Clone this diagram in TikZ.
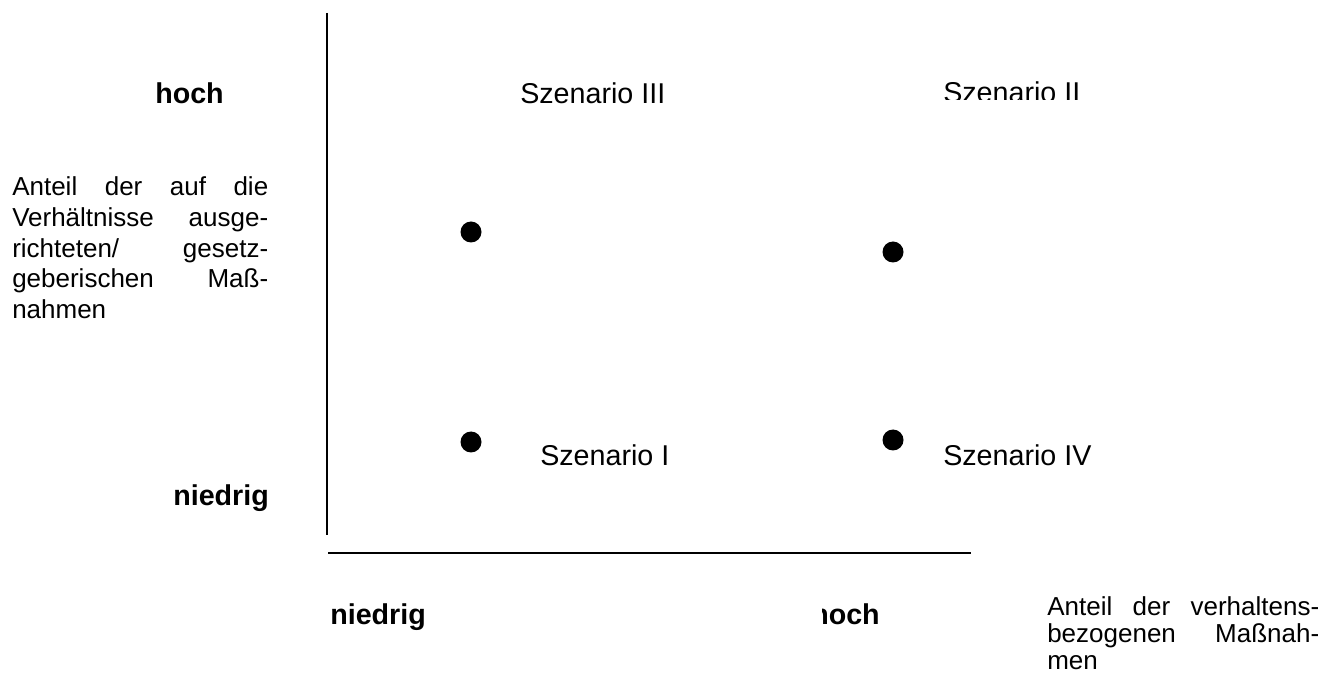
\documentclass[tikz,border=0pt]{standalone}
\usepackage{fontspec}
\setmainfont{Liberation Sans}
\usetikzlibrary{calc}

\tikzset{
	axislabel/.style={inner sep=0pt, anchor=base west, font=\fontsize{21.5}{26}\selectfont\bfseries},
	scenlabel/.style={inner sep=0pt, anchor=base west, font=\fontsize{21.5}{26}\selectfont},
	axistext/.style={inner sep=0pt, anchor=base west, font=\fontsize{19.5}{23}\selectfont}
}

\begin{document}
\begin{tikzpicture}[x=0.75pt, y=-0.75pt]
	\useasboundingbox (0,0) rectangle (1340,677);
	% axes
	\coordinate (ytop) at (327,13);
	\coordinate (ybot) at (327,535);
	\coordinate (xleft) at (328,553);
	\coordinate (xright) at (971,553);
	\draw[line width=1.5pt] (ytop) -- (ybot);
	\draw[line width=1.5pt] (xleft) -- (xright);
	% labels of the axes
	\node[axislabel] (yhigh) at (155,104) {hoch};
	\node[axislabel] (ylow) at (173,505) {niedrig};
	\node[axislabel] (xlow) at (330,624) {niedrig};
	\begin{scope}
		\clip (822,580) rectangle (900,640);
		\node[axislabel] (xhigh) at (811,624) {hoch};
	\end{scope}
	\node[axistext] (ytext) at (12,196) {\vtop{\baselineskip=22.9pt
		\hbox to 192pt{Anteil\hfill der\hfill auf\hfill die}
		\hbox to 192pt{Verhältnisse\hfill ausge-}
		\hbox to 192pt{richteten/\hfill gesetz-}
		\hbox to 192pt{geberischen\hfill Maß-}
		\hbox{nahmen}}};
	\node[axistext] (xtext) at (1047,615) {\vtop{\baselineskip=20.25pt
		\hbox to 204pt{Anteil\hfill der\hfill verhaltens-}
		\hbox to 204pt{bezogenen\hfill Maßnah-}
		\hbox{men}}};
	% scenarios
	\node[scenlabel] (s3) at (520,104) {Szenario III};
	\begin{scope}
		\clip (930,60) rectangle (1110,100);
		\node[scenlabel] (s2) at (943,103) {Szenario II};
	\end{scope}
	\node[scenlabel] (s1) at (540,465) {Szenario I};
	\node[scenlabel] (s4) at (943,465) {Szenario IV};
	\begin{scope} [every node/.style={circle, fill=black, inner sep=0pt, minimum size=15.75pt}]
		\node (d3) at (471,232){};
		\node (d2) at (893,252){};
		\node (d1) at (471,442){};
		\node (d4) at (893,440){};
	\end{scope}
\end{tikzpicture}
\end{document}
